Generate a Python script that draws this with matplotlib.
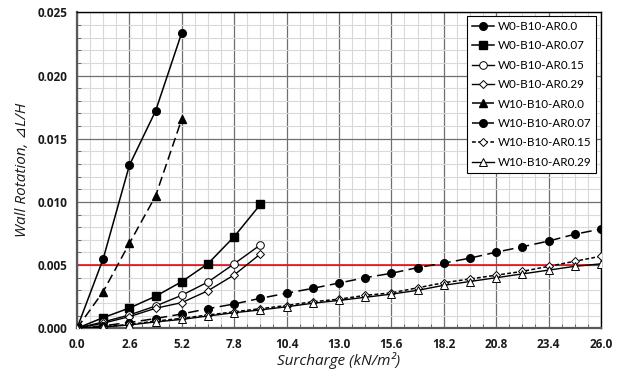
import matplotlib
matplotlib.use("Agg")
import matplotlib.pyplot as plt
from matplotlib.ticker import MultipleLocator, FormatStrFormatter

# surcharge steps (kN/m^2)
x_short = [0.0, 1.3, 2.6, 3.9, 5.2]
x_mid = [0.0, 1.3, 2.6, 3.9, 5.2, 6.5, 7.8, 9.1]
x_long = [0.0, 1.3, 2.6, 3.9, 5.2, 6.5, 7.8, 9.1, 10.4, 11.7, 13.0,
          14.3, 15.6, 16.9, 18.2, 19.5, 20.8, 22.1, 23.4, 24.7, 26.0]

# wall rotation dL/H
w0_ar000 = [0.0, 0.0055, 0.0129, 0.0172, 0.0234]
w0_ar007 = [0.0, 0.00084, 0.0016, 0.00253, 0.00369, 0.00511, 0.00725, 0.0098]
w0_ar015 = [0.0, 0.0005, 0.00105, 0.00176, 0.00261, 0.00366, 0.0051, 0.0066]
w0_ar029 = [0.0, 0.0004, 0.00092, 0.00158, 0.00203, 0.00297, 0.00422, 0.00588]
w10_ar000 = [0.0, 0.0029, 0.00672, 0.01047, 0.01656]
w10_ar007 = [0.0, 0.0002, 0.00045, 0.00077, 0.00113, 0.00155, 0.00192, 0.00237,
             0.00277, 0.00316, 0.00358, 0.004, 0.00435, 0.0048, 0.00515,
             0.00555, 0.00602, 0.00645, 0.0069, 0.00744, 0.00785]
w10_ar015 = [0.0, 0.00012, 0.0003, 0.00057, 0.00078, 0.00105, 0.0013, 0.00155,
             0.0018, 0.0021, 0.0023, 0.0026, 0.0028, 0.0032, 0.0036,
             0.0039, 0.0042, 0.0045, 0.0049, 0.0053, 0.0057]
w10_ar029 = [0.0, 0.0001, 0.00026, 0.0005, 0.0007, 0.00097, 0.00123, 0.00145,
             0.0017, 0.00198, 0.0022, 0.00245, 0.0027, 0.003, 0.0034,
             0.0037, 0.004, 0.0043, 0.0046, 0.0049, 0.0051]

limit = 0.005

TICK_FONT = ["Open Sans", "DejaVu Sans"]
LABEL_FONT = ["Open Sans", "DejaVu Sans"]

fig = plt.figure(figsize=(6.24, 3.76), dpi=100)
ax = fig.add_axes([0.1234, 0.127, 0.8396, 0.84])

ax.set_xlim(0, 26)
ax.set_ylim(0, 0.025)
ax.xaxis.set_major_locator(MultipleLocator(2.6))
ax.xaxis.set_minor_locator(MultipleLocator(0.65))
ax.yaxis.set_major_locator(MultipleLocator(0.005))
ax.yaxis.set_minor_locator(MultipleLocator(0.001))
ax.xaxis.set_major_formatter(FormatStrFormatter("%.1f"))
ax.yaxis.set_major_formatter(FormatStrFormatter("%.3f"))

ax.grid(which="major", color="#6f6f6f", lw=0.9, zorder=0)
ax.grid(which="minor", color="#d9d9d9", lw=0.8, zorder=0)
ax.set_axisbelow(True)
ax.tick_params(which="major", length=0, pad=7)
ax.tick_params(which="minor", direction="in", length=3, color="#595959")
for lab in ax.get_xticklabels() + ax.get_yticklabels():
    lab.set_fontfamily(TICK_FONT)
    lab.set_fontweight("bold")
    lab.set_fontsize(8.5)
    lab.set_color("#1a1a1a")
for side in ["left", "bottom"]:
    ax.spines[side].set_color("#595959")
    ax.spines[side].set_linewidth(1.6)
for side in ["top", "right"]:
    ax.spines[side].set_color("black")
    ax.spines[side].set_linewidth(1.0)

ax.axhline(limit, color="#e8141b", lw=1.2, zorder=2)

ms = 5.5
oms = 5.5
ax.plot(x_short, w0_ar000, "-", color="black", lw=1.1, marker="o", ms=ms,
        mfc="black", label="W0-B10-AR0.0", zorder=3)
ax.plot(x_mid, w0_ar007, "-", color="black", lw=1.1, marker="s", ms=ms,
        mfc="black", label="W0-B10-AR0.07", zorder=3)
ax.plot(x_mid, w0_ar015, "-", color="black", lw=1.0, marker="o", ms=oms,
        mfc="white", mew=0.7, label="W0-B10-AR0.15", zorder=3)
ax.plot(x_mid, w0_ar029, "-", color="black", lw=1.0, marker="D", ms=4,
        mfc="white", mew=0.7, label="W0-B10-AR0.29", zorder=3)
ax.plot(x_short, w10_ar000, color="black", lw=1.1, ls=(0, (6, 3)), marker="^",
        ms=ms, mfc="black", label="W10-B10-AR0.0", zorder=3)
ax.plot(x_long, w10_ar007, color="black", lw=1.1, ls=(0, (7, 3.5)), marker="o",
        ms=ms, mfc="black", label="W10-B10-AR0.07", zorder=3)
ax.plot(x_long, w10_ar015, color="black", lw=1.1, ls=(0, (2.5, 1.5)), marker="D",
        ms=4, mfc="white", mew=0.7, label="W10-B10-AR0.15", zorder=3)
ax.plot(x_long, w10_ar029, "-", color="black", lw=1.0, marker="^", ms=oms,
        mfc="white", mew=0.7, label="W10-B10-AR0.29", zorder=3)

leg = ax.legend(loc="upper right", bbox_to_anchor=(0.996, 0.996),
                prop={"family": ["Lato", "DejaVu Sans"], "size": 8.4},
                frameon=True, fancybox=False, edgecolor="black",
                framealpha=1, handlelength=1.9, handletextpad=0.3,
                labelspacing=0.72, borderpad=0.42, borderaxespad=0.2)
leg.get_frame().set_linewidth(0.8)

ax.set_xlabel("Surcharge (kN/m\u00b2)", fontfamily=LABEL_FONT, style="italic",
              fontsize=11, color="#1a1a1a", labelpad=1)
ax.set_ylabel("Wall Rotation, \u22bfL/H", fontfamily=LABEL_FONT, style="italic",
              fontsize=11, color="#1a1a1a", labelpad=5)

fig.savefig("out.png", dpi=100)
